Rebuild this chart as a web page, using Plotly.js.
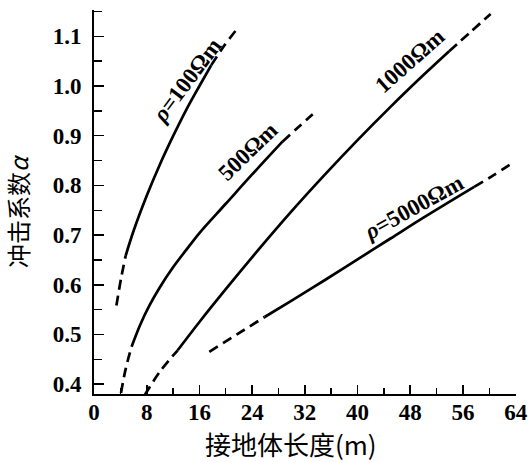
<!DOCTYPE html>
<html><head><meta charset="utf-8">
<script src="https://cdn.plot.ly/plotly-3.0.1.min.js"></script>
<style>html,body{margin:0;padding:0;background:#fff;}</style>
</head><body><div id="chart" style="width:528px;height:462px;"></div>
<script>
// ρ = 100 Ωm
const r100LoX = [3.4, 4.1, 4.8];
const r100LoY = [0.558, 0.612, 0.658];
const r100X = [4.8, 6.0, 8.0, 10.0, 12.0, 14.0, 16.0, 17.8];
const r100Y = [0.658, 0.708, 0.779, 0.842, 0.899, 0.952, 1.0, 1.042];
const r100HiX = [17.8, 19.7, 21.6];
const r100HiY = [1.042, 1.08, 1.113];
// ρ = 500 Ωm
const r500LoX = [4.1, 4.8, 5.7];
const r500LoY = [0.382, 0.43, 0.475];
const r500X = [5.7, 7.0, 8.4, 10.0, 12.0, 14.0, 16.0, 20.0, 24.0, 28.6];
const r500Y = [0.475, 0.519, 0.558, 0.595, 0.635, 0.67, 0.704, 0.763, 0.822, 0.888];
const r500HiX = [28.6, 31.0, 33.2];
const r500HiY = [0.888, 0.917, 0.943];
// ρ = 1000 Ωm
const r1000LoX = [7.7, 10.0, 12.7];
const r1000LoY = [0.378, 0.425, 0.468];
const r1000X = [12.7, 16.0, 20.0, 25.0, 30.0, 35.0, 40.0, 45.0, 50.0, 53.9];
const r1000Y = [0.468, 0.525, 0.591, 0.671, 0.748, 0.821, 0.891, 0.958, 1.022, 1.07];
const r1000HiX = [53.9, 57.0, 60.2];
const r1000HiY = [1.07, 1.107, 1.145];
// ρ = 5000 Ωm
const r5000LoX = [17.5, 21.7, 25.9];
const r5000LoY = [0.465, 0.5, 0.535];
const r5000X = [25.9, 30.0, 35.0, 40.0, 45.0, 50.0, 57.7];
const r5000Y = [0.535, 0.568, 0.609, 0.651, 0.693, 0.735, 0.797];
const r5000HiX = [57.7, 60.6, 63.5];
const r5000HiY = [0.797, 0.82, 0.845];

const curveLabels = ['<i>ρ</i>=100Ωm', '500Ωm', '1000Ωm', '<i>ρ</i>=5000Ωm'];
const xTickVals = [0, 8, 16, 24, 32, 40, 48, 56, 64];
const yTickVals = [0.4, 0.5, 0.6, 0.7, 0.8, 0.9, 1.0, 1.1];
const yTickText = ['0.4', '0.5', '0.6', '0.7', '0.8', '0.9', '1.0', '1.1'];
const xTitle = '接地体长度(m)';
const yTitle = '冲击系数<i>α</i>';

const SERIF = '"Liberation Serif", "Times New Roman", "Noto Sans CJK SC", serif';
const CJK = '"Noto Sans CJK SC", "Liberation Serif", sans-serif';

function seg(x, y, dashed) {
  return {
    x: x, y: y, type: 'scatter', mode: 'lines',
    line: {color: '#000', width: 2.7, shape: 'spline', smoothing: 1, dash: dashed ? '10px,6px' : 'solid'},
    hoverinfo: 'skip', showlegend: false
  };
}
const data = [
  seg(r100LoX, r100LoY, true), seg(r100X, r100Y, false), seg(r100HiX, r100HiY, true),
  seg(r500LoX, r500LoY, true), seg(r500X, r500Y, false), seg(r500HiX, r500HiY, true),
  seg(r1000LoX, r1000LoY, true), seg(r1000X, r1000Y, false), seg(r1000HiX, r1000HiY, true),
  seg(r5000LoX, r5000LoY, true), seg(r5000X, r5000Y, false), seg(r5000HiX, r5000HiY, true)
];

const labelPos = [
  {x: 14.1, y: 1.011, a: -53},
  {x: 23.4, y: 0.868, a: -44},
  {x: 48.0, y: 1.051, a: -41.5},
  {x: 48.5, y: 0.755, a: -29}
];
const annotations = curveLabels.map((t, i) => ({
  text: '<b>' + t + '</b>', x: labelPos[i].x, y: labelPos[i].y, xref: 'x', yref: 'y',
  xanchor: 'center', yanchor: 'middle',
  textangle: labelPos[i].a, showarrow: false,
  font: {family: SERIF, size: 23, color: '#000'}
}));
annotations.push({
  text: xTitle, xref: 'paper', yref: 'paper', x: 0.466, y: -0.128,
  xanchor: 'center', yanchor: 'middle',
  showarrow: false, font: {family: CJK, size: 26, color: '#000'}
});
annotations.push({
  text: yTitle, xref: 'paper', yref: 'paper', x: -0.18, y: 0.4766,
  xanchor: 'center', yanchor: 'middle',
  textangle: -90, showarrow: false, font: {family: CJK, size: 24, color: '#000'}
});

const layout = {
  width: 528, height: 462,
  margin: {l: 94, r: 12, t: 10, b: 68},
  paper_bgcolor: '#fff', plot_bgcolor: '#fff',
  showlegend: false,
  xaxis: {
    range: [0, 64.05], showgrid: false, zeroline: false,
    showline: true, linecolor: '#000', linewidth: 2,
    tickmode: 'array', tickvals: xTickVals,
    ticks: 'inside', ticklen: 9, tickwidth: 1.6, tickcolor: '#000',
    minor: {dtick: 4, tick0: 0, ticks: 'inside', ticklen: 6, tickwidth: 1.4, tickcolor: '#000', showgrid: false},
    tickfont: {family: SERIF, size: 23, color: '#000', weight: 'bold'},
    ticklabelstandoff: -4
  },
  yaxis: {
    range: [0.38, 1.153], showgrid: false, zeroline: false,
    showline: true, linecolor: '#000', linewidth: 2,
    tickmode: 'array', tickvals: yTickVals, ticktext: yTickText,
    ticks: 'inside', ticklen: 10, tickwidth: 1.6, tickcolor: '#000',
    minor: {dtick: 0.05, tick0: 0.4, ticks: 'inside', ticklen: 8, tickwidth: 1.4, tickcolor: '#000', showgrid: false},
    tickfont: {family: SERIF, size: 23, color: '#000', weight: 'bold'},
    ticklabelstandoff: 6
  },
  annotations: annotations
};
Plotly.newPlot('chart', data, layout, {staticPlot: true, displayModeBar: false});
</script></body></html>
